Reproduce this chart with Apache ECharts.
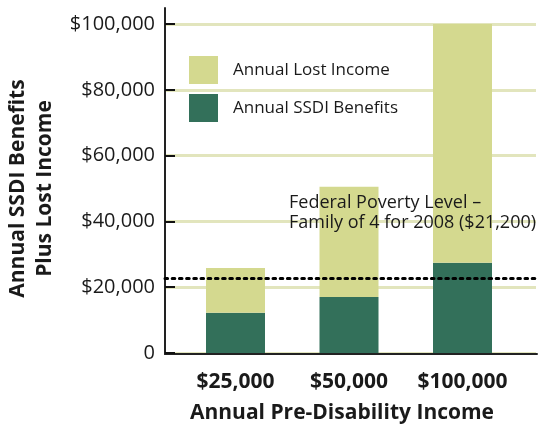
<!DOCTYPE html>
<html>
<head>
<meta charset="utf-8">
<script src="https://cdn.jsdelivr.net/npm/echarts@6/dist/echarts.min.js"></script>
<style>
html,body{margin:0;padding:0;background:#fff;}
#chart{width:544px;height:428px;}
</style>
</head>
<body>
<div id="chart"></div>
<script>
const categories = ['$25,000', '$50,000', '$100,000'];
const ssdiBenefits = [12200, 17000, 27400];
const lostIncome = [13600, 33500, 72600];
const povertyLevel = 22800;
const povertyLabel = ['Federal Poverty Level \u2013', 'Family of 4 for 2008 ($21,200)'];
const yTicks = [0, 20000, 40000, 60000, 80000, 100000];
const yTickLabels = ['0', '$20,000', '$40,000', '$60,000', '$80,000', '$100,000'];
const seriesNames = ['Annual Lost Income', 'Annual SSDI Benefits'];
const xTitle = 'Annual Pre-Disability Income';
const yTitle = 'Annual SSDI Benefits\nPlus Lost Income';

const FONT = 'Open Sans';
const TXT = '#1a1a1a';
const LIGHT = '#D4D98F';
const DARK = '#33705A';
const GRIDC = '#E2E5BD';
const AXISC = '#222222';

const chart = echarts.init(document.getElementById('chart'), null, {renderer: 'canvas'});
chart.setOption({
  animation: false,
  backgroundColor: '#fff',
  textStyle: {fontFamily: FONT},
  grid: [
    {left: 165, right: 7, top: 8, bottom: 74, containLabel: false, outerBoundsMode: 'none'},
    {left: 165, right: 8, top: 24, bottom: 75, containLabel: false, outerBoundsMode: 'none'},
    {left: 178.75, right: 24.75, top: 24, bottom: 75, containLabel: false, outerBoundsMode: 'none'}
  ],
  legend: {
    orient: 'vertical', left: 189, top: 56, padding: 0,
    itemWidth: 29, itemHeight: 28, itemGap: 10, icon: 'rect',
    data: seriesNames,
    textStyle: {fontFamily: FONT, fontSize: 17, color: TXT, padding: [0, 0, 0, 10]}
  },
  xAxis: [
    {gridIndex: 0, type: 'value', min: 0, max: 1, show: true, position: 'bottom',
     axisLine: {show: true, onZero: false, lineStyle: {color: AXISC, width: 2}},
     axisTick: {show: false}, axisLabel: {show: false}, splitLine: {show: false}},
    {gridIndex: 1, type: 'category', data: categories, show: false},
    {gridIndex: 2, type: 'category', data: categories,
     axisLine: {show: false}, axisTick: {show: false},
     axisLabel: {interval: 0, hideOverlap: false, margin: 19, fontFamily: FONT, fontSize: 21, fontWeight: 'bold', color: TXT},
     name: xTitle, nameLocation: 'middle', nameGap: 50,
     nameTextStyle: {fontFamily: FONT, fontSize: 21, fontWeight: 'bold', color: TXT, padding: [0, 14, 0, 0]}}
  ],
  yAxis: [
    {gridIndex: 0, type: 'value', min: 0, max: 1, show: true, position: 'left',
     axisLine: {show: true, onZero: false, lineStyle: {color: AXISC, width: 2}},
     axisTick: {show: false}, axisLabel: {show: false}, splitLine: {show: false}},
    {gridIndex: 1, type: 'value', min: 0, max: 100000, interval: 20000,
     axisLine: {show: false},
     axisTick: {show: true, inside: true, length: 10, lineStyle: {color: '#111', width: 2}},
     axisLabel: {margin: 10, fontFamily: FONT, fontSize: 20, color: TXT,
       formatter: v => yTickLabels[yTicks.indexOf(v)]},
     splitLine: {show: true, lineStyle: {color: GRIDC, width: 3}},
     name: yTitle, nameLocation: 'middle', nameRotate: 90, nameGap: 100,
     nameTextStyle: {fontFamily: FONT, fontSize: 21, fontWeight: 'bold', color: TXT, lineHeight: 27, align: 'center'}},
    {gridIndex: 2, type: 'value', min: 0, max: 100000, show: false}
  ],
  series: [
    {name: seriesNames[1], type: 'bar', stack: 'total', xAxisIndex: 2, yAxisIndex: 2,
     barWidth: 59, itemStyle: {color: DARK}, data: ssdiBenefits, z: 2},
    {name: seriesNames[0], type: 'bar', stack: 'total', xAxisIndex: 2, yAxisIndex: 2,
     barWidth: 59, itemStyle: {color: LIGHT}, data: lostIncome, z: 2},
    {name: 'poverty', type: 'line', xAxisIndex: 1, yAxisIndex: 1, data: [], z: 5,
     markLine: {
       silent: true, symbol: 'none', animation: false,
       lineStyle: {color: '#000', width: 3, type: [2.6, 4.6], cap: 'round'},
       label: {show: true, position: 'insideStartTop', distance: 5, offset: [119, -40],
         formatter: povertyLabel.join('\n'), fontFamily: FONT, fontSize: 18, lineHeight: 20,
         color: TXT, align: 'left'},
       emphasis: {disabled: true},
       data: [{yAxis: povertyLevel}]
     }},
    {name: 'frame', type: 'line', xAxisIndex: 0, yAxisIndex: 0, data: [], silent: true}
  ]
});
</script>
</body>
</html>
